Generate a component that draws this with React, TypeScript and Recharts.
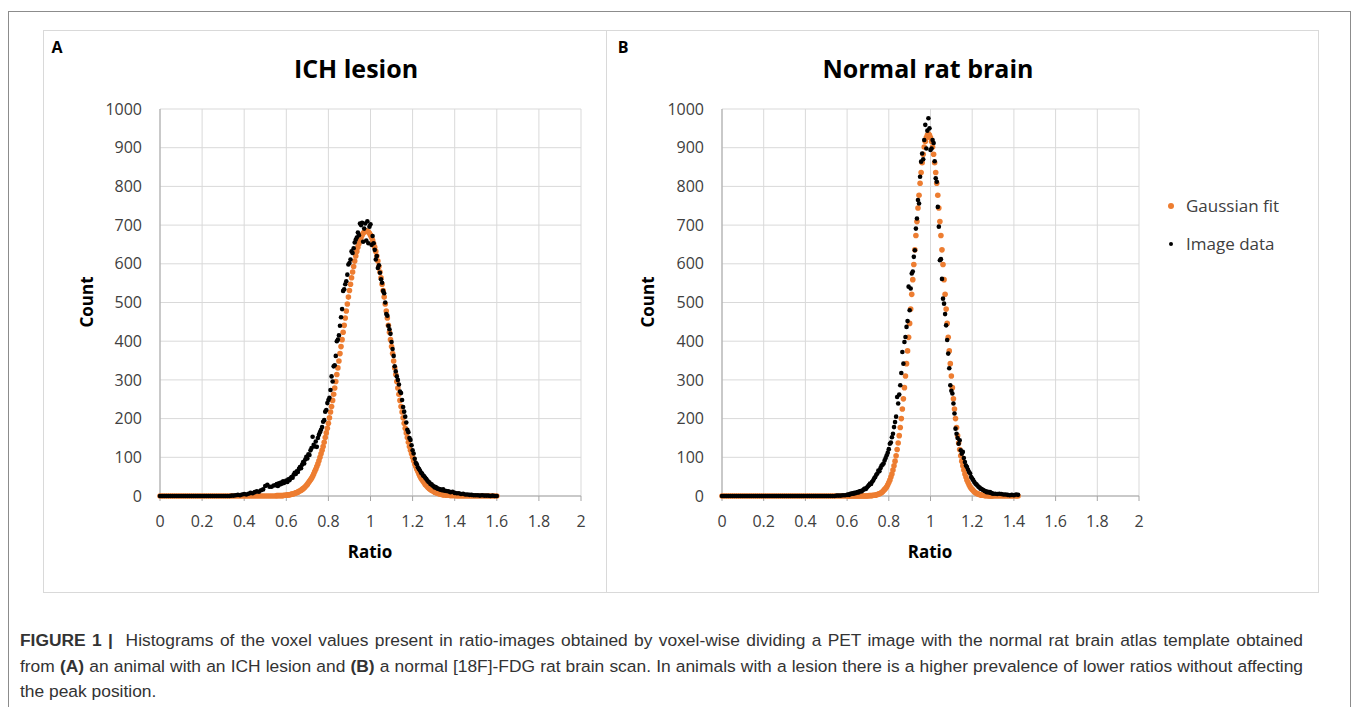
import { ScatterChart, Scatter, XAxis, YAxis, CartesianGrid } from "recharts";

// ratio bins, panel A (ICH lesion)
const ratioA = [
  0, 0.01, 0.02, 0.03, 0.04, 0.05, 0.06, 0.07, 0.08, 0.09,
  0.1, 0.11, 0.12, 0.13, 0.14, 0.15, 0.16, 0.17, 0.18, 0.19,
  0.2, 0.21, 0.22, 0.23, 0.24, 0.25, 0.26, 0.27, 0.28, 0.29,
  0.3, 0.31, 0.32, 0.33, 0.34, 0.35, 0.36, 0.37, 0.38, 0.39,
  0.4, 0.41, 0.42, 0.43, 0.44, 0.45, 0.46, 0.47, 0.48, 0.49,
  0.5, 0.51, 0.52, 0.53, 0.54,
  0.55, 0.555, 0.56, 0.565, 0.57, 0.575, 0.58, 0.585, 0.59, 0.595,
  0.6, 0.605, 0.61, 0.615, 0.62, 0.625, 0.63, 0.635, 0.64, 0.645,
  0.65, 0.655, 0.66, 0.665, 0.67, 0.675, 0.68, 0.685, 0.69, 0.695,
  0.7, 0.705, 0.71, 0.715, 0.72, 0.725, 0.73, 0.735, 0.74, 0.745,
  0.75, 0.755, 0.76, 0.765, 0.77, 0.775, 0.78, 0.785, 0.79, 0.795,
  0.8, 0.805, 0.81, 0.815, 0.82, 0.825, 0.83, 0.835, 0.84, 0.845,
  0.85, 0.855, 0.86, 0.865, 0.87, 0.875, 0.88, 0.885, 0.89, 0.895,
  0.9, 0.905, 0.91, 0.915, 0.92, 0.925, 0.93, 0.935, 0.94, 0.945,
  0.95, 0.955, 0.96, 0.965, 0.97, 0.975, 0.98, 0.985, 0.99, 0.995,
  1, 1.005, 1.01, 1.015, 1.02, 1.025, 1.03, 1.035, 1.04, 1.045,
  1.05, 1.055, 1.06, 1.065, 1.07, 1.075, 1.08, 1.085, 1.09, 1.095,
  1.1, 1.105, 1.11, 1.115, 1.12, 1.125, 1.13, 1.135, 1.14, 1.145,
  1.15, 1.155, 1.16, 1.165, 1.17, 1.175, 1.18, 1.185, 1.19, 1.195,
  1.2, 1.205, 1.21, 1.215, 1.22, 1.225, 1.23, 1.235, 1.24, 1.245,
  1.25, 1.255, 1.26, 1.265, 1.27, 1.275, 1.28, 1.285, 1.29, 1.295,
  1.3, 1.305, 1.31, 1.315, 1.32, 1.325, 1.33, 1.335, 1.34, 1.345,
  1.35,
  1.36, 1.37, 1.38, 1.39, 1.4, 1.41, 1.42, 1.43, 1.44, 1.45,
  1.46, 1.47, 1.48, 1.49, 1.5, 1.51, 1.52, 1.53, 1.54, 1.55,
  1.56, 1.57, 1.58, 1.59, 1.6,
];

const gaussA = [
  0, 0, 0, 0, 0, 0, 0, 0, 0, 0,
  0, 0, 0, 0, 0, 0, 0, 0, 0, 0,
  0, 0, 0, 0, 0, 0, 0, 0, 0, 0,
  0, 0, 0, 0, 0, 0, 0, 0, 0, 0,
  0, 0, 0, 0, 0, 0, 0, 0, 0, 0,
  0, 0, 0, 0, 0,
  0, 1, 1, 1, 1, 1, 1, 1, 2, 2,
  2, 3, 3, 3, 4, 5, 5, 6, 7, 8,
  9, 10, 12, 13, 15, 17, 19, 21, 24, 27,
  30, 34, 38, 42, 46, 51, 57, 63, 69, 76,
  83, 91, 100, 109, 118, 128, 139, 151, 163, 175,
  188, 202, 217, 231, 247, 263, 279, 296, 314, 331,
  349, 368, 386, 404, 423, 441, 460, 478, 496, 514,
  531, 547, 564, 579, 593, 607, 620, 632, 643, 652,
  661, 668, 674, 679, 682, 684, 685, 684, 682, 679,
  674, 668, 661, 652, 643, 632, 620, 607, 593, 579,
  564, 547, 531, 514, 496, 478, 460, 441, 423, 404,
  386, 368, 349, 331, 314, 296, 279, 263, 247, 231,
  217, 202, 188, 175, 163, 151, 139, 128, 118, 109,
  100, 91, 83, 76, 69, 63, 57, 51, 46, 42,
  38, 34, 30, 27, 24, 21, 19, 17, 15, 13,
  12, 10, 9, 8, 7, 6, 5, 5, 4, 3,
  3,
  2, 2, 1, 1, 1, 0, 0, 0, 0, 0,
  0, 0, 0, 0, 0, 0, 0, 0, 0, 0,
  0, 0, 0, 0, 0,
];

const imageA = [
  0, 0, 0, 0, 0, 0, 0, 0, 0, 0,
  0, 0, 0, 0, 0, 0, 0, 0, 0, 0,
  0, 0, 0, 0, 0, 0, 0, 0, 0, 0,
  0, 0, 0, 0, 1, 1, 2, 3, 2, 4,
  5, 4, 6, 8, 7, 10, 12, 11, 15, 17,
  26, 29, 24, 24, 27,
  28, 31, 26, 33, 30, 35, 32, 38, 34, 37,
  40, 36, 43, 41, 46, 49, 47, 55, 60, 57,
  64, 62, 70, 75, 72, 81, 88, 84, 94, 101,
  97, 108, 106, 118, 124, 153, 132, 128, 141, 127,
  150, 158, 165, 171, 178, 192, 196, 218, 222, 240,
  248, 254, 274, 309, 296, 335, 338, 362, 400, 404,
  415, 440, 462, 483, 530, 534, 547, 555, 572, 598,
  602, 611, 632, 628, 640, 655, 662, 668, 681, 674,
  704, 700, 706, 657, 691, 704, 660, 710, 653, 696,
  702, 649, 672, 653, 636, 611, 620, 589, 596, 577,
  560, 551, 530, 524, 500, 470, 466, 440, 431, 419,
  398, 380, 362, 335, 322, 309, 300, 288, 270, 266,
  248, 230, 218, 205, 190, 171, 165, 150, 145, 131,
  118, 110, 96, 86, 82, 74, 70, 66, 60, 58,
  53, 51, 47, 44, 40, 37, 35, 31, 30, 27,
  25, 22, 23, 20, 19, 18, 17, 16, 15, 17,
  14,
  13, 12, 10, 11, 8, 7, 7, 5, 6, 4,
  4, 3, 3, 2, 2, 2, 1, 2, 1, 1,
  1, 0, 1, 0, 0,
];

// ratio bins, panel B (normal rat brain)
const ratioB = [
  0, 0.01, 0.02, 0.03, 0.04, 0.05, 0.06, 0.07, 0.08, 0.09,
  0.1, 0.11, 0.12, 0.13, 0.14, 0.15, 0.16, 0.17, 0.18, 0.19,
  0.2, 0.21, 0.22, 0.23, 0.24, 0.25, 0.26, 0.27, 0.28, 0.29,
  0.3, 0.31, 0.32, 0.33, 0.34, 0.35, 0.36, 0.37, 0.38, 0.39,
  0.4, 0.41, 0.42, 0.43, 0.44, 0.45, 0.46, 0.47, 0.48, 0.49,
  0.5, 0.51, 0.52, 0.53, 0.54, 0.55, 0.56, 0.57, 0.58, 0.59,
  0.6, 0.605, 0.61, 0.615, 0.62, 0.625, 0.63, 0.635, 0.64, 0.645,
  0.65, 0.655, 0.66, 0.665, 0.67, 0.675, 0.68, 0.685, 0.69, 0.695,
  0.7, 0.705, 0.71, 0.715, 0.72, 0.725, 0.73, 0.735, 0.74, 0.745,
  0.75, 0.755, 0.76, 0.765, 0.77, 0.775, 0.78, 0.785, 0.79, 0.795,
  0.8, 0.805, 0.81, 0.815, 0.82, 0.825, 0.83, 0.835, 0.84, 0.845,
  0.85, 0.855, 0.86, 0.865, 0.87, 0.875, 0.88, 0.885, 0.89, 0.895,
  0.9, 0.905, 0.91, 0.915, 0.92, 0.925, 0.93, 0.935, 0.94, 0.945,
  0.95, 0.955, 0.96, 0.965, 0.97, 0.975, 0.98, 0.985, 0.99, 0.995,
  1, 1.005, 1.01, 1.015, 1.02, 1.025, 1.03, 1.035, 1.04, 1.045,
  1.05, 1.055, 1.06, 1.065, 1.07, 1.075, 1.08, 1.085, 1.09, 1.095,
  1.1, 1.105, 1.11, 1.115, 1.12, 1.125, 1.13, 1.135, 1.14, 1.145,
  1.15, 1.155, 1.16, 1.165, 1.17, 1.175, 1.18, 1.185, 1.19, 1.195,
  1.2, 1.205, 1.21, 1.215, 1.22, 1.225, 1.23, 1.235, 1.24, 1.245,
  1.25, 1.255, 1.26, 1.265, 1.27, 1.275, 1.28, 1.285, 1.29, 1.295,
  1.3,
  1.31, 1.32, 1.33, 1.34, 1.35, 1.36, 1.37, 1.38, 1.39, 1.4,
  1.41, 1.42,
];

const gaussB = [
  0, 0, 0, 0, 0, 0, 0, 0, 0, 0,
  0, 0, 0, 0, 0, 0, 0, 0, 0, 0,
  0, 0, 0, 0, 0, 0, 0, 0, 0, 0,
  0, 0, 0, 0, 0, 0, 0, 0, 0, 0,
  0, 0, 0, 0, 0, 0, 0, 0, 0, 0,
  0, 0, 0, 0, 0, 0, 0, 0, 0, 0,
  0, 0, 0, 0, 0, 0, 0, 0, 0, 0,
  0, 0, 0, 0, 0, 0, 0, 0, 0, 0,
  0, 1, 1, 1, 1, 2, 2, 2, 3, 4,
  5, 6, 7, 9, 11, 14, 17, 20, 24, 29,
  35, 41, 49, 57, 67, 78, 90, 104, 120, 137,
  156, 177, 200, 225, 251, 280, 310, 342, 375, 410,
  446, 483, 521, 559, 598, 636, 673, 709, 744, 777,
  808, 836, 861, 883, 902, 916, 926, 933, 935, 933,
  926, 916, 902, 883, 861, 836, 808, 777, 744, 709,
  673, 636, 598, 559, 521, 483, 446, 410, 375, 342,
  310, 280, 251, 225, 200, 177, 156, 137, 120, 104,
  90, 78, 67, 57, 49, 41, 35, 29, 24, 20,
  17, 14, 11, 9, 7, 6, 5, 4, 3, 2,
  2, 2, 1, 1, 1, 1, 0, 0, 0, 0,
  0,
  0, 0, 0, 0, 0, 0, 0, 0, 0, 0,
  0, 0,
];

const imageB = [
  0, 0, 0, 0, 0, 0, 0, 0, 0, 0,
  0, 0, 0, 0, 0, 0, 0, 0, 0, 0,
  0, 0, 0, 0, 0, 0, 0, 0, 0, 0,
  0, 0, 0, 0, 0, 0, 0, 0, 0, 0,
  0, 0, 0, 0, 0, 0, 0, 0, 0, 0,
  0, 0, 0, 0, 0, 1, 1, 1, 2, 2,
  3, 4, 3, 6, 5, 7, 6, 8, 7, 9,
  10, 9, 12, 13, 12, 15, 17, 19, 18, 22,
  25, 28, 32, 31, 37, 40, 46, 49, 55, 58,
  66, 64, 72, 78, 81, 84, 92, 98, 105, 112,
  121, 135, 138, 152, 161, 178, 191, 205, 256, 239,
  262, 286, 318, 372, 342, 398, 411, 437, 452, 541,
  480, 536, 575, 580, 618, 635, 691, 717, 765, 756,
  825, 864, 885, 870, 920, 959, 898, 944, 976, 950,
  894, 898, 920, 912, 865, 821, 812, 747, 696, 609,
  612, 561, 510, 497, 470, 441, 403, 368, 330, 286,
  272, 265, 239, 213, 174, 161, 150, 135, 144, 118,
  109, 114, 98, 88, 79, 75, 68, 62, 58, 49,
  45, 41, 36, 32, 30, 27, 24, 22, 19, 18,
  16, 15, 13, 12, 10, 11, 9, 10, 8, 7,
  6,
  6, 5, 6, 5, 4, 4, 3, 2, 3, 2,
  4, 3,
];

const xTicks = [0, 0.2, 0.4, 0.6, 0.8, 1, 1.2, 1.4, 1.6, 1.8, 2];
const yTicks = [0, 100, 200, 300, 400, 500, 600, 700, 800, 900, 1000];

const ORANGE = "#ed7d31";
const AXIS = "#a6a6a6";
const GRID = "#d9d9d9";
const TEXT = "#404040";
const FONT = "'Open Sans', sans-serif";

function Histogram({
  ratio,
  gauss,
  image,
  width,
  yAxisWidth,
  rightMargin,
}: {
  ratio: number[];
  gauss: number[];
  image: number[];
  width: number;
  yAxisWidth: number;
  rightMargin: number;
}) {
  const gaussPts = ratio.map((x, i) => ({ x, y: gauss[i] }));
  const imagePts = ratio.map((x, i) => ({ x, y: image[i] }));
  const tick = { fill: TEXT, fontSize: 16, fontFamily: FONT };

  return (
    <ScatterChart
      width={width}
      height={560}
      margin={{ top: 78, right: rightMargin, bottom: 55, left: 0 }}
    >
      <CartesianGrid stroke={GRID} />
      <XAxis
        type="number"
        dataKey="x"
        domain={[0, 2]}
        ticks={xTicks}
        interval={0}
        height={40}
        tick={tick}
        stroke={AXIS}
        tickSize={5}
        tickMargin={15}
      />
      <YAxis
        type="number"
        dataKey="y"
        domain={[0, 1000]}
        ticks={yTicks}
        interval={0}
        width={yAxisWidth}
        tick={tick}
        stroke={AXIS}
        tickLine={false}
        tickSize={0}
        tickMargin={18}
      />
      <Scatter
        name="Gaussian fit"
        data={gaussPts}
        isAnimationActive={false}
        shape={(p: any) => <circle cx={p.cx} cy={p.cy} r={2.8} fill={ORANGE} />}
      />
      <Scatter
        name="Image data"
        data={imagePts}
        isAnimationActive={false}
        shape={(p: any) => <circle cx={p.cx} cy={p.cy} r={2.3} fill="#000" />}
      />
    </ScatterChart>
  );
}

const abs = (left: number, top: number, extra: any = {}) => ({
  position: "absolute" as const,
  left,
  top,
  ...extra,
});

const centered = (left: number, top: number, extra: any = {}) =>
  abs(left, top, { transform: "translate(-50%, -50%)", whiteSpace: "nowrap", ...extra });

export default function App() {
  const title = { fontSize: 25, fontWeight: 700, color: "#000" };
  const axisTitle = { fontSize: 17, fontWeight: 700, color: "#000" };
  const legendText = { fontSize: 17, color: TEXT };
  const justified = { width: 1283, textAlign: "justify" as const, textAlignLast: "justify" as const };

  return (
    <div
      style={{
        position: "relative",
        width: 1360,
        height: 707,
        overflow: "hidden",
        background: "#fff",
        fontFamily: FONT,
      }}
    >
      <style>{`body { margin: 0; }`}</style>
      <div style={abs(8, 11, { width: 1341, height: 720, border: "1px solid #8c8c8c" })} />
      <div style={abs(43, 30, { width: 1274, height: 561, border: "1px solid " + GRID })} />
      <div style={abs(606, 30, { width: 1, height: 562, background: GRID })} />

      <div style={abs(44, 31)}>
        <Histogram ratio={ratioA} gauss={gaussA} image={imageA} width={562} yAxisWidth={116} rightMargin={25} />
      </div>
      <div style={abs(607, 31)}>
        <Histogram ratio={ratioB} gauss={gaussB} image={imageB} width={545} yAxisWidth={115} rightMargin={13} />
      </div>

      <div style={centered(57, 47, { fontSize: 16, fontWeight: 700 })}>A</div>
      <div style={centered(623, 47, { fontSize: 16, fontWeight: 700 })}>B</div>
      <div style={centered(356, 68, title)}>ICH lesion</div>
      <div style={centered(928, 68, title)}>Normal rat brain</div>

      <div style={centered(86, 302, { ...axisTitle, transform: "translate(-50%, -50%) rotate(-90deg)" })}>Count</div>
      <div style={centered(647, 302, { ...axisTitle, transform: "translate(-50%, -50%) rotate(-90deg)" })}>Count</div>
      <div style={centered(370, 551, axisTitle)}>Ratio</div>
      <div style={centered(930, 551, axisTitle)}>Ratio</div>

      <div style={centered(1171, 206, { width: 6, height: 6, borderRadius: 3, background: ORANGE })} />
      <div style={abs(1186, 194, legendText)}>Gaussian fit</div>
      <div style={centered(1171, 244, { width: 4, height: 4, borderRadius: 2, background: "#000" })} />
      <div style={abs(1186, 232, legendText)}>Image data</div>

      <div
        style={abs(20, 628, {
          fontFamily: "'Liberation Sans', sans-serif",
          fontSize: 17.4,
          lineHeight: "25.5px",
          color: "#333",
          whiteSpace: "nowrap",
        })}
      >
        <div style={justified}>
          <b>FIGURE 1 |</b>&nbsp; Histograms of the voxel values present in ratio-images obtained by voxel-wise dividing a PET image with the normal rat brain atlas template obtained
        </div>
        <div style={justified}>
          from <b>(A)</b> an animal with an ICH lesion and <b>(B)</b> a normal [18F]-FDG rat brain scan. In animals with a lesion there is a higher prevalence of lower ratios without affecting
        </div>
        <div>the peak position.</div>
      </div>
    </div>
  );
}
